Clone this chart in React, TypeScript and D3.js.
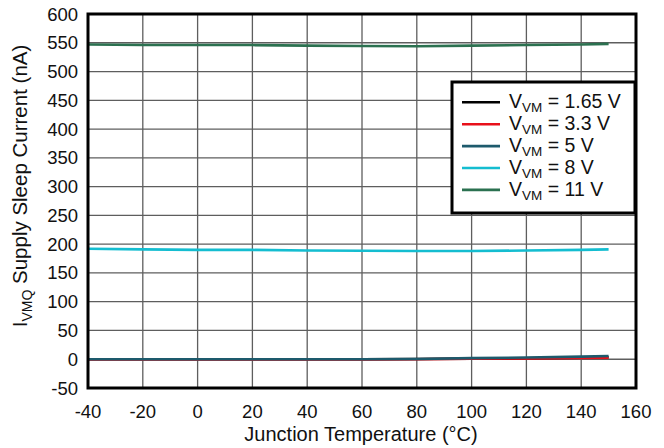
import React from "react";
import * as d3 from "d3";

const temps = [-40, -20, 0, 20, 40, 60, 80, 100, 120, 140, 150];
const v165 = [0, 0, 0, 0, 0, 0, 0.3, 1, 1.8, 2.8, 3.5];
const v33 = [-0.5, -0.5, -0.5, -0.5, -0.5, -0.3, 0, 0.8, 1.5, 2.3, 2.5];
const v5 = [0, 0, 0, 0, 0, 0, 0.5, 2, 3, 4.5, 5.5];
const v8 = [192, 191, 190, 190, 189, 188.5, 188, 188, 189, 190, 191];
const v11 = [547, 546, 546, 546, 545, 544.5, 544, 545, 546, 547, 548];

const seriesValues = [v165, v33, v5, v8, v11];
const seriesColors = ["#000000", "#e8101a", "#1d5a6c", "#14bdd0", "#2b7150"];
const legendLabels = ["1.65 V", "3.3 V", "5 V", "8 V", "11 V"];

const xTicks = d3.range(-40, 161, 20);
const yTicks = d3.range(-50, 601, 50);

export default function App() {
  const W = 664, H = 448;
  const m = { l: 88, r: 636, t: 14, b: 388 };
  const x = d3.scaleLinear().domain([-40, 160]).range([m.l, m.r]);
  const y = d3.scaleLinear().domain([-50, 600]).range([m.b, m.t]);
  const line = d3.line<number>().x((_, i) => x(temps[i])).y((d) => y(d));
  const font = "'Liberation Sans', Arial, sans-serif";
  const drawOrder = [4, 3, 0, 1, 2];
  const lx = 452, ly = 82, lw = 183, lh = 131;
  const tick = 18.5;
  return (
    <svg width={W} height={H} style={{ position: "absolute", left: 0, top: 0 }} fontFamily={font}>
      <rect width={W} height={H} fill="#fff" />
      {xTicks.slice(1, -1).map((t) => (
        <line key={"gx" + t} x1={x(t)} x2={x(t)} y1={m.t} y2={m.b} stroke="#5e5e5e" strokeWidth={1.3} />
      ))}
      {yTicks.slice(1, -1).map((t) => (
        <line key={"gy" + t} y1={y(t)} y2={y(t)} x1={m.l} x2={m.r} stroke="#5e5e5e" strokeWidth={1.3} />
      ))}
      {drawOrder.map((i) => (
        <path key={"s" + i} d={line(seriesValues[i]) || ""} fill="none" stroke={seriesColors[i]} strokeWidth={2.6} />
      ))}
      <rect x={m.l} y={m.t} width={m.r - m.l} height={m.b - m.t} fill="none" stroke="#000" strokeWidth={3} />
      {xTicks.map((t) => (
        <text key={"tx" + t} x={x(t)} y={m.b + 30} textAnchor="middle" fontSize={tick} fill="#111">{t}</text>
      ))}
      {yTicks.map((t) => (
        <text key={"ty" + t} x={m.l - 10} y={y(t) + 6.5} textAnchor="end" fontSize={tick} fill="#111">{t}</text>
      ))}
      <text x={361} y={441} textAnchor="middle" fontSize={20} fill="#111">Junction Temperature (°C)</text>
      <text transform={`translate(27, 186) rotate(-90)`} textAnchor="middle" fontSize={20.5} fill="#111">
        I<tspan fontSize={14} dy={5}>VMQ</tspan><tspan dy={-5}> Supply Sleep Current (nA)</tspan>
      </text>
      <rect x={lx} y={ly} width={lw} height={lh} fill="#fff" stroke="#000" strokeWidth={3} />
      {legendLabels.map((lab, i) => {
        const yy = ly + 20.3 + i * 21.9;
        return (
          <g key={"lg" + i}>
            <line x1={462} x2={500} y1={yy} y2={yy} stroke={seriesColors[i]} strokeWidth={2.6} />
            <text x={509} y={yy + 6} fontSize={19.5} fill="#111">
              V<tspan fontSize={13.5} dy={4}>VM</tspan><tspan dy={-4}>{" = " + lab}</tspan>
            </text>
          </g>
        );
      })}
    </svg>
  );
}
